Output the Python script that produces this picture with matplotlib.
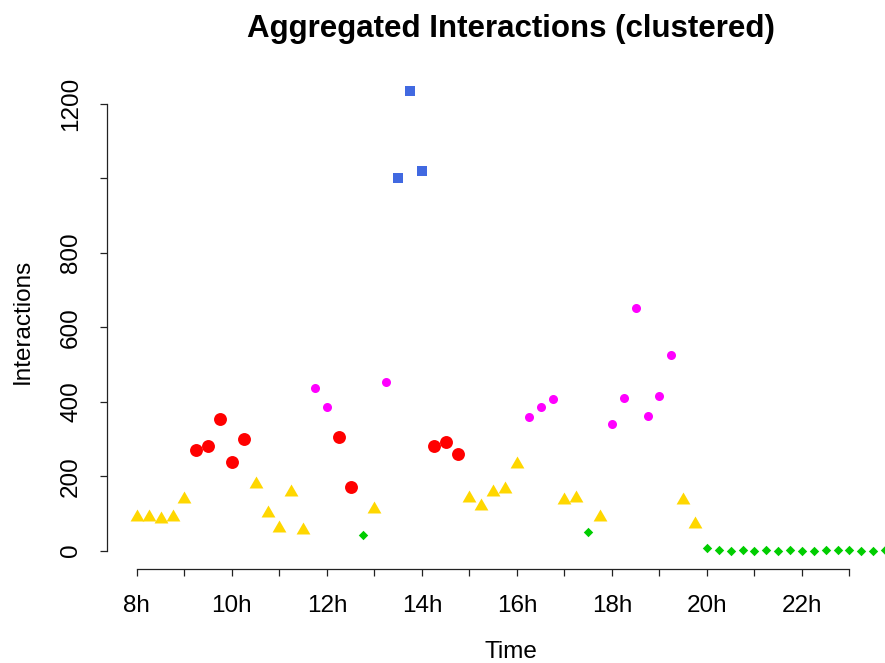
import numpy as np
import matplotlib
matplotlib.use("Agg")
import matplotlib.pyplot as plt

plt.rcParams["font.family"] = ["Liberation Sans", "DejaVu Sans"]

# 15-minute slots from 8h to 23h45
hours = [8.0, 8.25, 8.5, 8.75, 9.0, 9.25, 9.5, 9.75, 10.0, 10.25, 10.5, 10.75,
         11.0, 11.25, 11.5, 11.75, 12.0, 12.25, 12.5, 12.75, 13.0, 13.25, 13.5, 13.75,
         14.0, 14.25, 14.5, 14.75, 15.0, 15.25, 15.5, 15.75, 16.0, 16.25, 16.5, 16.75,
         17.0, 17.25, 17.5, 17.75, 18.0, 18.25, 18.5, 18.75, 19.0, 19.25, 19.5, 19.75,
         20.0, 20.25, 20.5, 20.75, 21.0, 21.25, 21.5, 21.75, 22.0, 22.25, 22.5, 22.75,
         23.0, 23.25, 23.5, 23.75]

interactions = [91, 91, 84, 91, 138, 270, 282, 353, 238, 301, 178, 101,
                61, 157, 55, 437, 386, 305, 172, 42, 111, 453, 1000, 1234,
                1019, 282, 291, 260, 141, 121, 157, 166, 233, 358, 387, 408,
                137, 142, 51, 91, 340, 410, 651, 362, 416, 525, 137, 71,
                6, 3, 0, 1, 0, 1, 0, 1, 0, 0, 1, 1,
                1, 0, 0, 1]

# cluster id per slot: 1 low, 2 mid, 3 high, 4 peak, 5 idle
cluster = [1, 1, 1, 1, 1, 2, 2, 2, 2, 2, 1, 1,
           1, 1, 1, 3, 3, 2, 2, 5, 1, 3, 4, 4,
           4, 2, 2, 2, 1, 1, 1, 1, 1, 3, 3, 3,
           1, 1, 5, 1, 3, 3, 3, 3, 3, 3, 1, 1,
           5, 5, 5, 5, 5, 5, 5, 5, 5, 5, 5, 5,
           5, 5, 5, 5]

tick_hours = list(range(8, 24))
tick_labels = [f"{h}h" if h % 2 == 0 else "" for h in tick_hours]
y_ticks = [0, 200, 400, 600, 800, 1000, 1200]
y_labels = ["0", "200", "400", "600", "800", "", "1200"]

tri = [(-1.0, -0.577), (1.0, -0.577), (0.0, 1.155)]
styles = {
    1: dict(color="#FFD700", marker=tri, s=11.5 ** 2),
    2: dict(color="#FF0000", marker="o", s=9.3 ** 2),
    3: dict(color="#FF00FF", marker="o", s=6.5 ** 2),
    4: dict(color="#4169E1", marker="s", s=6.5 ** 2),
    5: dict(color="#00CD00", marker="D", s=4.8 ** 2),
}

hours = np.array(hours)
interactions = np.array(interactions)
cluster = np.array(cluster)

fig = plt.figure(figsize=(8.85, 6.63), dpi=100)
ax = fig.add_axes([107 / 885, 94 / 663, 808 / 885, 496 / 663])

for k, st in styles.items():
    m = cluster == k
    ax.scatter(hours[m], interactions[m], c=st["color"], marker=st["marker"],
               s=st["s"], linewidths=0, zorder=3)

# R-style 4% padding around the data range
xr = hours.max() - hours.min()
yr = interactions.max() - interactions.min()
ax.set_xlim(hours.min() - 0.04 * xr, hours.max() + 0.04 * xr)
ax.set_ylim(interactions.min() - 0.04 * yr, interactions.max() + 0.04 * yr)

for side in ["top", "right"]:
    ax.spines[side].set_visible(False)
ax.spines["bottom"].set_bounds(8, 23)
ax.spines["left"].set_bounds(0, 1200)
for side in ["bottom", "left"]:
    ax.spines[side].set_linewidth(0.9)
    ax.spines[side].set_color("#222222")

ax.set_xticks(tick_hours)
ax.set_xticklabels(tick_labels)
ax.set_yticks(y_ticks)
ax.set_yticklabels(y_labels, rotation=90, va="center")
ax.tick_params(axis="both", direction="out", length=5, width=0.9,
               color="#222222", labelsize=17.5)
ax.tick_params(axis="x", pad=14)
ax.tick_params(axis="y", pad=13)

ax.set_xlabel("Time", fontsize=17.5, labelpad=17)
ax.set_ylabel("Interactions", fontsize=17.5, labelpad=19)
ax.set_title("Aggregated Interactions (clustered)", fontsize=22.5,
             fontweight="bold", pad=26)

fig.savefig("out.png", dpi=100)
